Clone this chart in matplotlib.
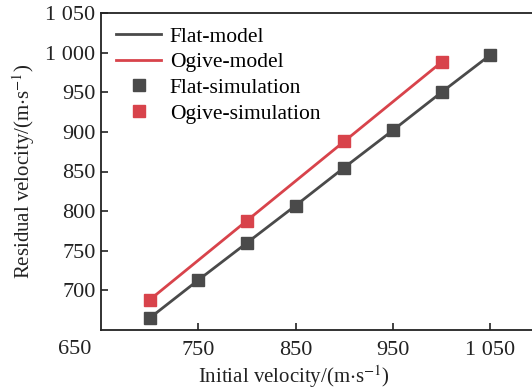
import matplotlib
matplotlib.use("Agg")
import matplotlib.pyplot as plt

flat_x = [700, 750, 800, 850, 900, 950, 1000, 1050]
flat_y = [665, 713, 760, 807, 855, 902, 950, 997]
ogive_x = [700, 800, 900, 1000]
ogive_y = [688, 788, 888, 988]
xticks = [750, 850, 950, 1050]
xtick_labels = ["750", "850", "950", "1 050"]
yticks = [700, 750, 800, 850, 900, 950, 1000, 1050]
ytick_labels = ["700", "750", "800", "850", "900", "950", "1 000", "1 050"]

plt.rcParams['font.family'] = ['Liberation Serif', 'DejaVu Serif']
plt.rcParams['mathtext.fontset'] = 'stix'

gray = '#4a4a4a'
red = '#d8434b'
ink = '#222222'

fig = plt.figure(figsize=(5.32, 3.92), dpi=100)
ax = fig.add_axes([101/532, 1 - 330/392, 1 - 101/532, (330 - 13)/392])

ax.plot(flat_x, flat_y, color=gray, lw=2, label='Flat-model', zorder=2)
ax.plot(ogive_x, ogive_y, color=red, lw=2, label='Ogive-model', zorder=2)
ax.plot(flat_x, flat_y, ls='none', marker='s', ms=8.5, color=gray, label='Flat-simulation', zorder=3)
ax.plot(ogive_x, ogive_y, ls='none', marker='s', ms=8.5, color=red, label='Ogive-simulation', zorder=3)

ax.set_xlim(650, 650 + (532 - 101) / 0.973)
ax.set_ylim(650, 1050)
ax.set_xticks(xticks)
ax.set_xticklabels(xtick_labels)
ax.set_yticks(yticks)
ax.set_yticklabels(ytick_labels)
ax.tick_params(direction='in', length=5, width=1.2, labelsize=16, colors=ink)
ax.tick_params(axis='x', pad=8)
ax.tick_params(axis='y', pad=4)
ax.spines['right'].set_visible(False)
for s in ['left', 'bottom', 'top']:
    ax.spines[s].set_linewidth(1.3)
    ax.spines[s].set_color(ink)

ax.text(-0.06, -0.06, '650', transform=ax.transAxes, fontsize=16, color=ink,
        ha='center', va='center')

ax.set_xlabel(r'Initial velocity/(m$\cdot$s$^{-1}$)', fontsize=15, color=ink)
ax.xaxis.set_label_coords(0.448, -0.105)
ax.set_ylabel(r'Residual velocity/(m$\cdot$s$^{-1}$)', fontsize=15, color=ink, labelpad=6)

leg = ax.legend(loc='upper left', frameon=False, fontsize=15.5, handlelength=2.1,
                labelspacing=0.26, borderaxespad=0.3, handletextpad=0.4,
                bbox_to_anchor=(0.0, 1.005))

fig.savefig('out.png', dpi=100)
